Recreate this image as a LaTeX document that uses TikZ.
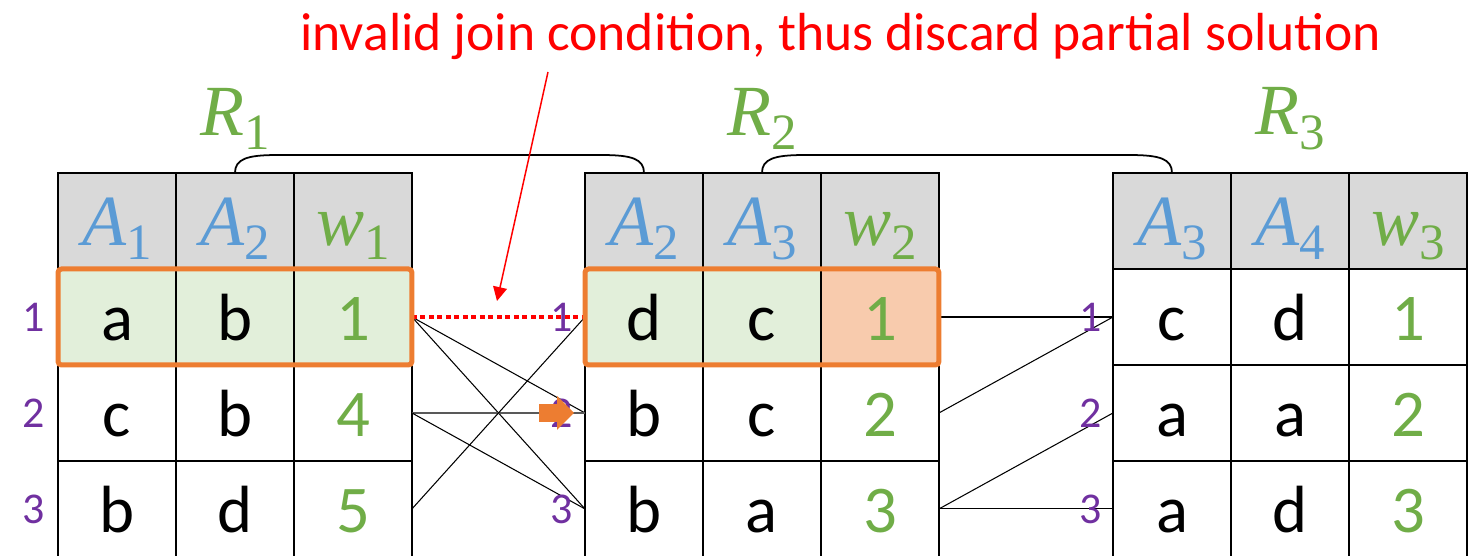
\documentclass[tikz,border=0pt]{standalone}
\usepackage{fontspec}
\setmainfont{Carlito}
\newfontfamily\symfont{Liberation Serif}
\usetikzlibrary{positioning,arrows.meta,fit,shapes.arrows}
\definecolor{headgray}{RGB}{217,217,217}
\definecolor{attr}{RGB}{91,155,213}
\definecolor{wgt}{RGB}{112,173,71}
\definecolor{rowid}{RGB}{112,48,160}
\definecolor{hl}{RGB}{237,125,49}
\definecolor{match}{RGB}{226,239,218}
\definecolor{clash}{RGB}{248,203,173}
\newcommand{\symb}[2]{{\symfont\itshape #1}{\symfont\raisebox{-0.2em}{\fontsize{29}{30}\selectfont #2}}}

\begin{document}
\begin{tikzpicture}[
    x=0.02cm, y=-0.02cm,
    node distance=0pt,
    cell/.style={rectangle, draw=black, line width=0.9pt, minimum width=2.36cm, minimum height=1.92cm, inner sep=0pt, outer sep=0pt, text height=1.16cm, text depth=0.2cm, font=\fontsize{38}{40}\selectfont},
    head/.style={cell, fill=headgray, font=\fontsize{41}{44}\selectfont},
    wcell/.style={cell, text=wgt},
    rowlab/.style={inner sep=0pt, text=rowid, font=\fontsize{25}{27}\selectfont},
    title/.style={inner sep=0pt, text=wgt, font=\fontsize{41}{44}\selectfont},
    hlbox/.style={rectangle, draw=hl, line width=0.1cm, rounded corners=2pt, inner sep=0pt},
    link/.style={line width=0.6pt},
    shared/.style={line width=1pt},
    reject/.style={draw=red, line width=0.08cm, dash pattern=on 0.1cm off 0.07cm},
    hint/.style={single arrow, fill=hl, inner xsep=0pt, inner ysep=0.17cm, minimum height=0.7cm, single arrow head extend=0.16cm, outer sep=0pt},
    note/.style={inner sep=0pt, text=red, font=\fontsize{30.5}{33}\selectfont},
    notearrow/.style={-{Triangle[length=0.28cm,width=0.28cm]}, draw=red, line width=0.85pt}
]
\useasboundingbox (0,0) rectangle (1471,555);

% Table R1
\node[head] (t1h1) at (117,221) {\textcolor{attr}{\symb{A}{1}}};
\node[head, right=of t1h1] (t1h2) {\textcolor{attr}{\symb{A}{2}}};
\node[head, right=of t1h2] (t1h3) {\textcolor{wgt}{\symb{w}{1}}};
\node[cell, fill=match, below=of t1h1] (t1r1c1) {a};
\node[cell, fill=match, right=of t1r1c1] (t1r1c2) {b};
\node[wcell, fill=match, right=of t1r1c2] (t1r1c3) {1};
\node[cell, below=of t1r1c1] (t1r2c1) {c};
\node[cell, right=of t1r2c1] (t1r2c2) {b};
\node[wcell, right=of t1r2c2] (t1r2c3) {4};
\node[cell, below=of t1r2c1] (t1r3c1) {b};
\node[cell, right=of t1r3c1] (t1r3c2) {d};
\node[wcell, right=of t1r3c2] (t1r3c3) {5};

% Table R2
\node[head] (t2h1) at (644,221) {\textcolor{attr}{\symb{A}{2}}};
\node[head, right=of t2h1] (t2h2) {\textcolor{attr}{\symb{A}{3}}};
\node[head, right=of t2h2] (t2h3) {\textcolor{wgt}{\symb{w}{2}}};
\node[cell, fill=match, below=of t2h1] (t2r1c1) {d};
\node[cell, fill=match, right=of t2r1c1] (t2r1c2) {c};
\node[wcell, fill=clash, right=of t2r1c2] (t2r1c3) {1};
\node[cell, below=of t2r1c1] (t2r2c1) {b};
\node[cell, right=of t2r2c1] (t2r2c2) {c};
\node[wcell, right=of t2r2c2] (t2r2c3) {2};
\node[cell, below=of t2r2c1] (t2r3c1) {b};
\node[cell, right=of t2r3c1] (t2r3c2) {a};
\node[wcell, right=of t2r3c2] (t2r3c3) {3};

% Table R3
\node[head] (t3h1) at (1172,221) {\textcolor{attr}{\symb{A}{3}}};
\node[head, right=of t3h1] (t3h2) {\textcolor{attr}{\symb{A}{4}}};
\node[head, right=of t3h2] (t3h3) {\textcolor{wgt}{\symb{w}{3}}};
\node[cell, below=of t3h1] (t3r1c1) {c};
\node[cell, right=of t3r1c1] (t3r1c2) {d};
\node[wcell, right=of t3r1c2] (t3r1c3) {1};
\node[cell, below=of t3r1c1] (t3r2c1) {a};
\node[cell, right=of t3r2c1] (t3r2c2) {a};
\node[wcell, right=of t3r2c2] (t3r2c3) {2};
\node[cell, below=of t3r2c1] (t3r3c1) {a};
\node[cell, right=of t3r3c1] (t3r3c2) {d};
\node[wcell, right=of t3r3c2] (t3r3c3) {3};

% Relation names and shared attributes
\node[title, above=0.46cm of t1h2] (rel1) {\symb{R}{1}};
\node[title, above=0.46cm of t2h2] (rel2) {\symb{R}{2}};
\node[title, above=0.46cm of t3h2] (rel3) {\symb{R}{3}};
\draw[shared] (t1h2.north) .. controls +(0,-14) and +(-30,0) .. ([shift={(42,-18)}]t1h2.north) -- ([shift={(-42,-18)}]t2h1.north) .. controls +(30,0) and +(0,-14) .. (t2h1.north);
\draw[shared] (t2h2.north) .. controls +(0,-14) and +(-30,0) .. ([shift={(42,-18)}]t2h2.north) -- ([shift={(-42,-18)}]t3h1.north) .. controls +(30,0) and +(0,-14) .. (t3h1.north);

% Joins R1 -- R2
\draw[link] (t1r1c3.east) -- (t2r2c1.west);
\draw[link] (t1r1c3.east) -- (t2r3c1.west);
\draw[link, draw=black!65, line width=0.9pt] (t1r2c3.east) -- (t2r2c1.west);
\draw[link] (t1r2c3.east) -- (t2r3c1.west);
\draw[link] (t1r3c3.east) -- (t2r1c1.west);
\draw[reject] (t1r1c3.east) -- (t2r1c1.west);

% Joins R2 -- R3
\draw[link] (t2r1c3.east) -- (t3r1c1.west);
\draw[link] (t2r2c3.east) -- (t3r1c1.west);
\draw[link] (t2r3c3.east) -- (t3r2c1.west);
\draw[link] (t2r3c3.east) -- (t3r3c1.west);

% Row numbers
\node[rowlab, left=0.26cm of t1r1c1.west] (id11) {1};
\node[rowlab, left=0.26cm of t1r2c1.west] (id12) {2};
\node[rowlab, left=0.26cm of t1r3c1.west] (id13) {3};
\node[rowlab, left=0.24cm of t2r1c1.west] (id21) {1};
\node[rowlab, left=0.24cm of t2r2c1.west] (id22) {2};
\node[rowlab, left=0.24cm of t2r3c1.west] (id23) {3};
\node[rowlab, left=0.22cm of t3r1c1.west] (id31) {1};
\node[rowlab, left=0.22cm of t3r2c1.west] (id32) {2};
\node[rowlab, left=0.22cm of t3r3c1.west] (id33) {3};

% Partial solution
\node[hlbox, fit=(t1r1c1)(t1r1c3)] (pick1) {};
\node[hlbox, fit=(t2r1c1)(t2r1c3)] (pick2) {};
\node[hint, left=0.22cm of t2r2c1.west] (nexttry) {};

% Annotation
\node[note, anchor=base] (remark) at (841,50) {invalid join condition, thus discard partial solution};
\coordinate (remarkfoot) at (548,72);
\coordinate (remarktip) at (497,301);
\draw[notearrow] (remarkfoot) -- (remarktip);
\end{tikzpicture}
\end{document}
